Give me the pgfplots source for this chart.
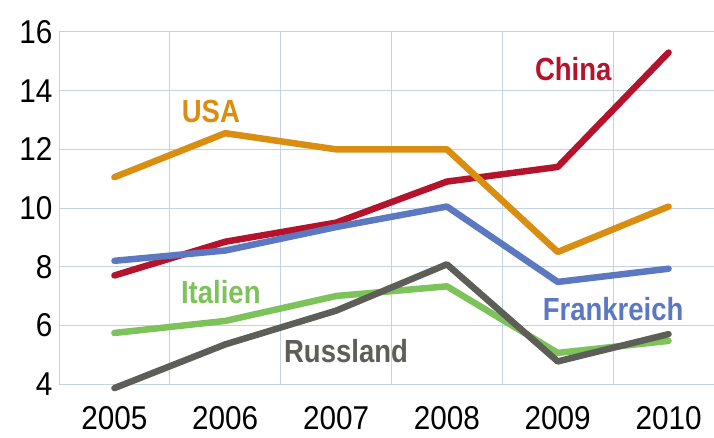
\documentclass[border=0pt]{standalone}
\usepackage{pgfplots}
\pgfplotsset{compat=1.18}
\usepackage{fontspec}
\setmainfont{Liberation Sans}[FakeStretch=0.9]
\newfontfamily\labfont{Liberation Sans Bold}[FakeStretch=0.86]
\definecolor{cChina}{HTML}{B5122B}
\definecolor{cUSA}{HTML}{D98E12}
\definecolor{cFra}{HTML}{5B78C0}
\definecolor{cIta}{HTML}{7DC25A}
\definecolor{cRus}{HTML}{5E5E58}
\definecolor{cGrid}{HTML}{C5D3E0}
\begin{document}
\begin{tikzpicture}
\path[use as bounding box] (0,0) rectangle (714pt,437pt);
\begin{axis}[
  at={(59pt,53pt)}, anchor=south west,
  scale only axis, width=655pt, height=352pt,
  xmin=2004.5, xmax=2010.41, ymin=4, ymax=16,
  clip=false,
  axis line style={draw=none},
  xtick={2005,2006,2007,2008,2009,2010},
  minor xtick={2004.5,2005.5,2006.5,2007.5,2008.5,2009.5},
  ytick={4,6,8,10,12,14,16},
  xticklabel style={/pgf/number format/1000 sep={}},
  xticklabels={2005,2006,2007,2008,2009,2010},
  ymajorgrids, xminorgrids,
  major grid style={draw=cGrid, line width=1pt},
  minor grid style={draw=cGrid, line width=1pt},
  major tick length=0pt, minor tick length=0pt,
  tick style={draw=none},
  /pgf/number format/assume math mode=true,
  ticklabel style={font=\fontsize{33}{35}\selectfont, text=black},
  yticklabel style={xshift=-3pt},
  xticklabel style={yshift=-19pt},
  every axis plot/.append style={line width=6.5pt, line cap=round, line join=round},
]
\addplot[cChina] coordinates {(2005,7.7) (2006,8.85) (2007,9.5) (2008,10.9) (2009,11.4) (2010,15.3)};
\addplot[cUSA] coordinates {(2005,11.05) (2006,12.55) (2007,12.0) (2008,12.0) (2009,8.5) (2010,10.05)};
\addplot[cFra] coordinates {(2005,8.2) (2006,8.55) (2007,9.35) (2008,10.05) (2009,7.48) (2010,7.93)};
\addplot[cIta] coordinates {(2005,5.74) (2006,6.15) (2007,7.0) (2008,7.33) (2009,5.06) (2010,5.47)};
\addplot[cRus] coordinates {(2005,3.86) (2006,5.35) (2007,6.5) (2008,8.08) (2009,4.77) (2010,5.7)};
\node[anchor=base, text=cUSA, font=\labfont\fontsize{32}{34}\selectfont] at (axis cs:2005.87,12.92) {USA};
\node[anchor=base, text=cChina, font=\labfont\fontsize{32}{34}\selectfont] at (axis cs:2009.14,14.36) {China};
\node[anchor=base, text=cIta, font=\labfont\fontsize{32}{34}\selectfont] at (axis cs:2005.96,6.76) {Italien};
\node[anchor=base, text=cRus, font=\labfont\fontsize{32}{34}\selectfont] at (axis cs:2007.09,4.72) {Russland};
\node[anchor=base, text=cFra, font=\labfont\fontsize{32}{34}\selectfont] at (axis cs:2009.5,6.18) {Frankreich};
\end{axis}
\end{tikzpicture}
\end{document}
